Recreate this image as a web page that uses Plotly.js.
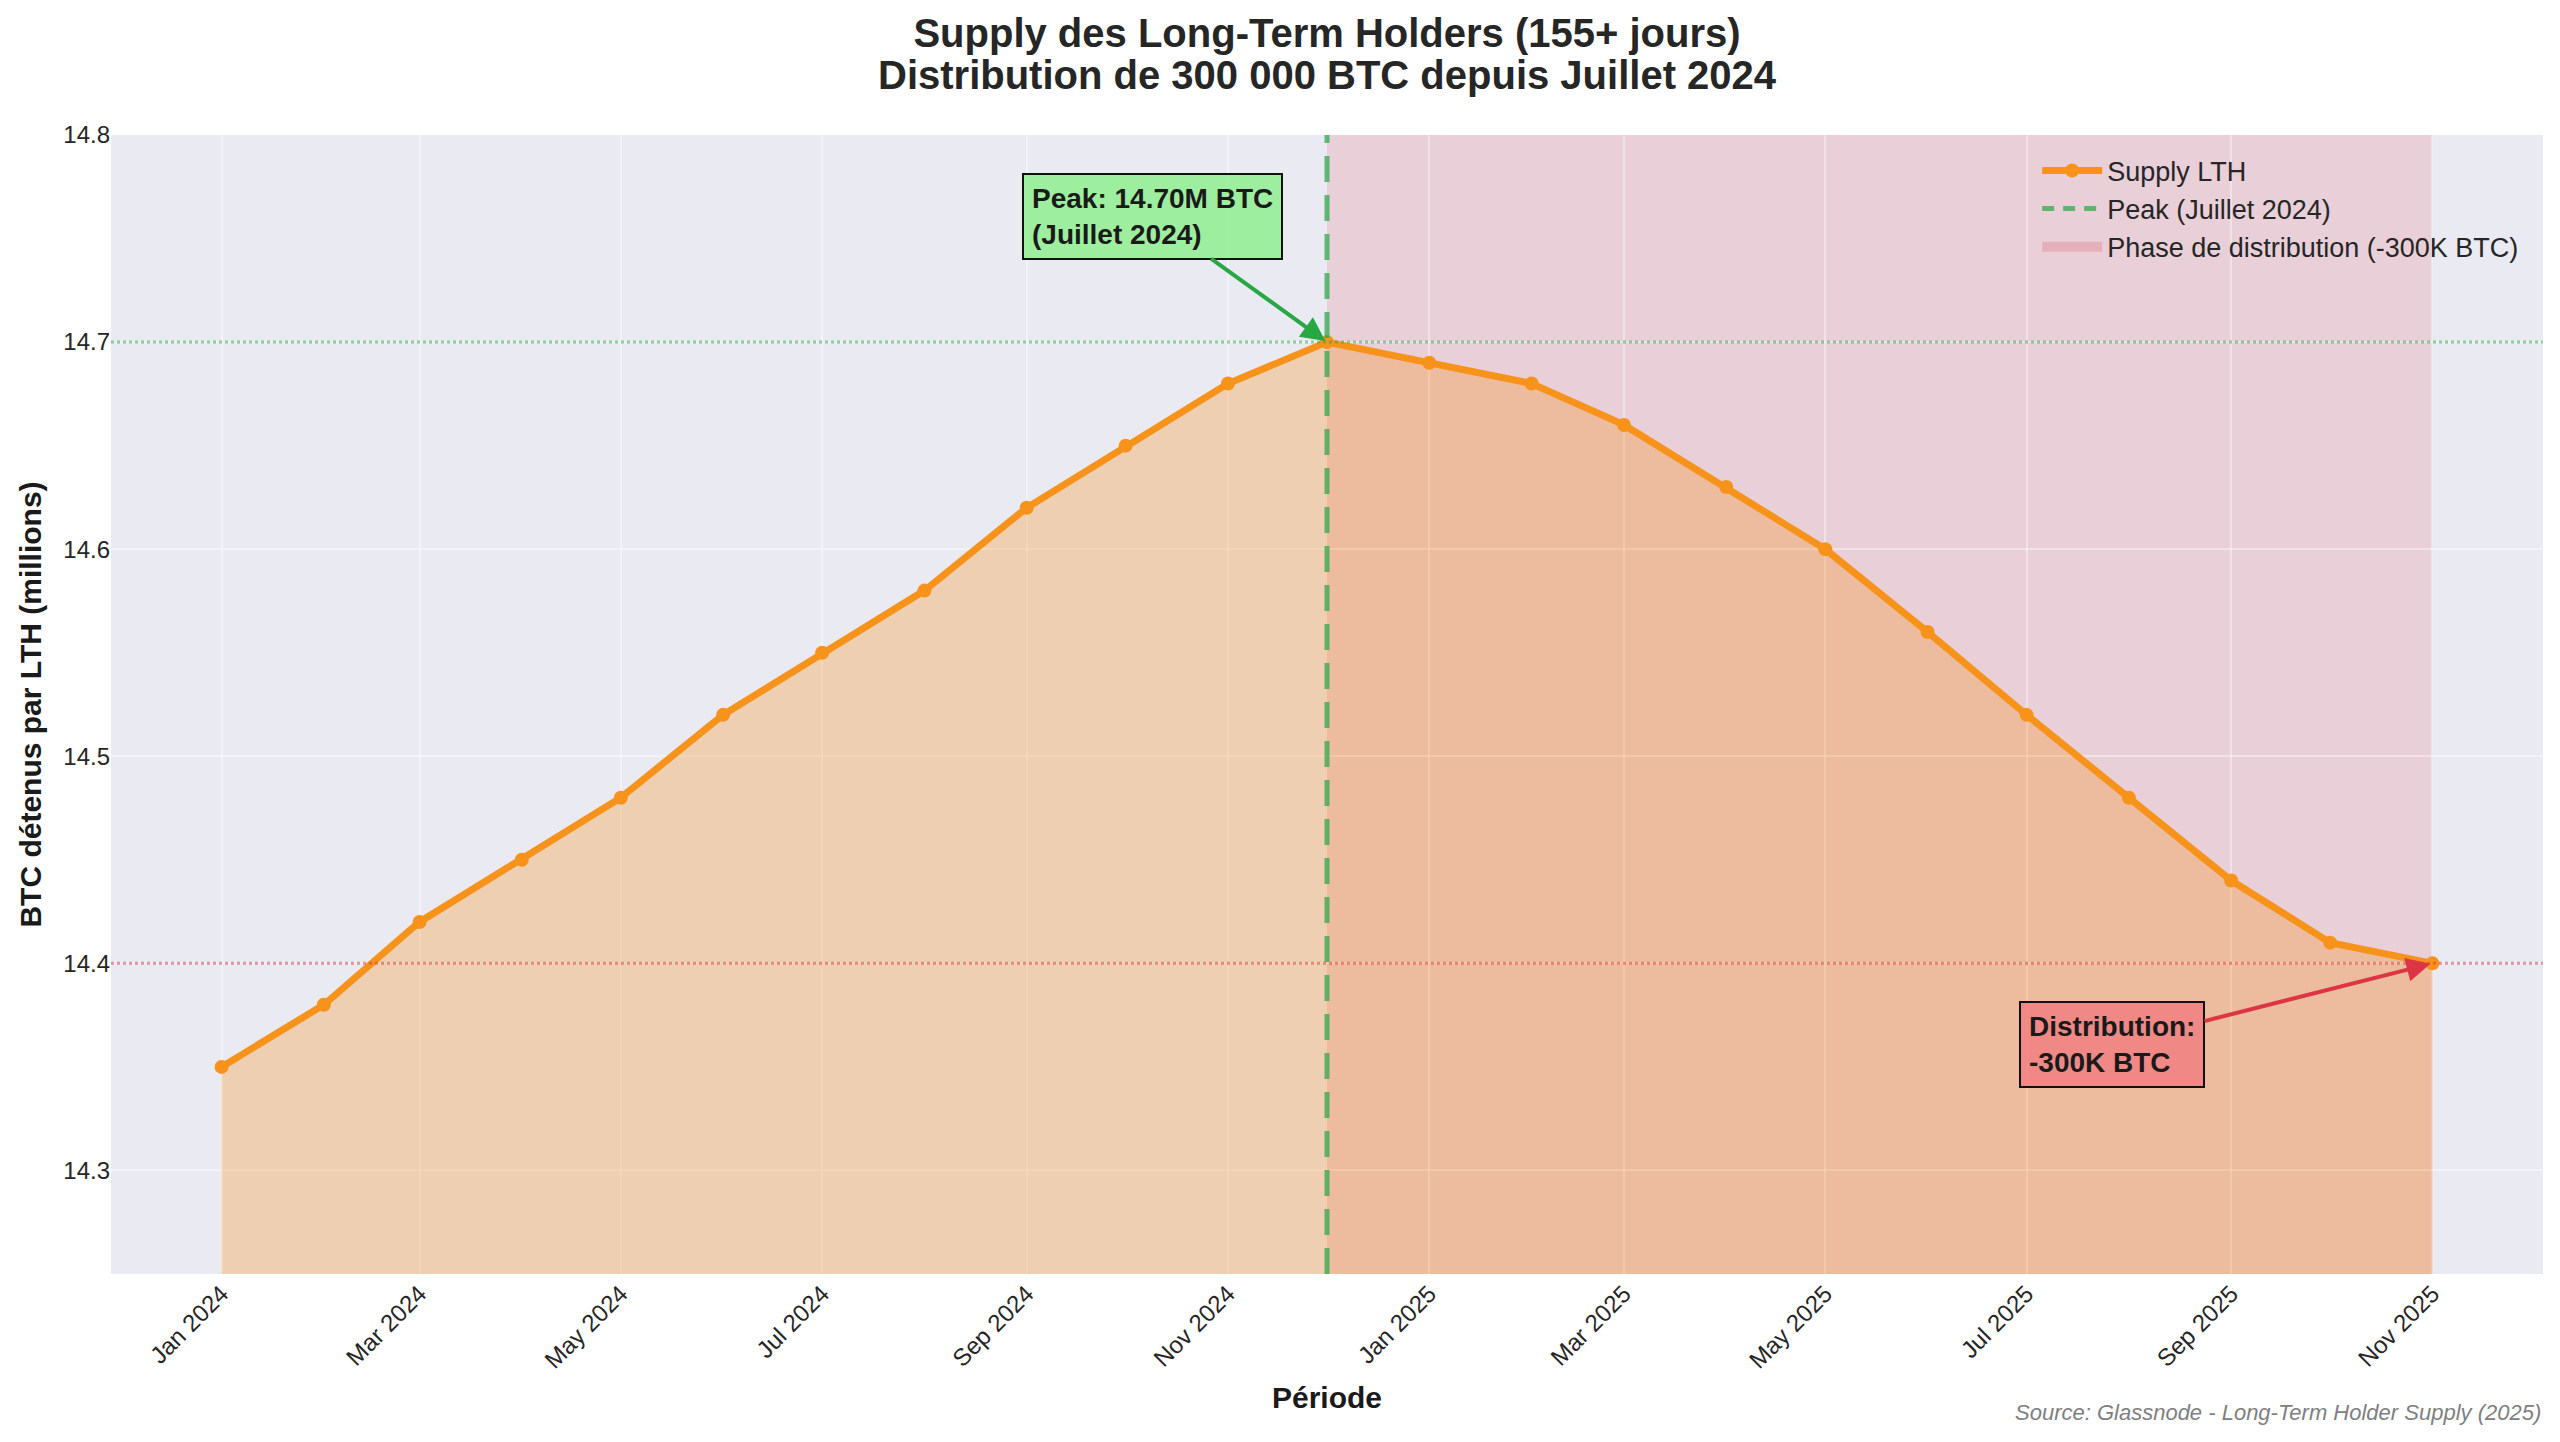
<!DOCTYPE html>
<html>
<head>
<meta charset="utf-8">
<script src="https://cdn.plot.ly/plotly-3.0.1.min.js"></script>
<style>
  html, body { margin: 0; padding: 0; background: #ffffff; }
  #chart { width: 2560px; height: 1442px; }
</style>
</head>
<body>
<div id="chart"></div>
<script>
// monthly LTH supply, millions of BTC
var months = [
  '2024-01-01', '2024-02-01', '2024-03-01', '2024-04-01', '2024-05-01', '2024-06-01',
  '2024-07-01', '2024-08-01', '2024-09-01', '2024-10-01', '2024-11-01', '2024-12-01',
  '2025-01-01', '2025-02-01', '2025-03-01', '2025-04-01', '2025-05-01', '2025-06-01',
  '2025-07-01', '2025-08-01', '2025-09-01', '2025-10-01', '2025-11-01'
];
var supplyLTH = [
  14.35, 14.38, 14.42, 14.45, 14.48, 14.52,
  14.55, 14.58, 14.62, 14.65, 14.68, 14.70,
  14.69, 14.68, 14.66, 14.63, 14.60, 14.56,
  14.52, 14.48, 14.44, 14.41, 14.40
];
var seriesName = 'Supply LTH';
var peakName = 'Peak (Juillet 2024)';
var phaseName = 'Phase de distribution (-300K BTC)';
var peakLabel = '(Juillet 2024)';
var distribLabel = ['Distribution:', '-300K BTC'];
var titleLines = [
  'Supply des Long-Term Holders (155+ jours)',
  'Distribution de 300 000 BTC depuis Juillet 2024'
];

var FONT = 'Liberation Sans, Arial, sans-serif';
var ORANGE = '#F7931A';
var GREEN = '#28a745';
var RED = '#dc3545';

// peak and end of series
var peakIdx = 0;
for (var i = 1; i < supplyLTH.length; i++) {
  if (supplyLTH[i] > supplyLTH[peakIdx]) peakIdx = i;
}
var lastIdx = supplyLTH.length - 1;
var peakDate = months[peakIdx];
var lastDate = months[lastIdx];

// matplotlib-like 5% margin on the date axis
var t0 = Date.parse(months[0]);
var t1 = Date.parse(lastDate);
var pad = 0.05 * (t1 - t0);
var xRange = [t0 - pad, t1 + pad];
var yRange = [14.25, 14.8];

var traces = [
  {   // area under the curve
    x: months, y: supplyLTH, type: 'scatter', mode: 'none',
    fill: 'tozeroy', fillcolor: 'rgba(247,147,26,0.3)',
    showlegend: false, hoverinfo: 'skip'
  },
  {
    x: months, y: supplyLTH, type: 'scatter', mode: 'lines+markers',
    name: seriesName,
    line: {color: ORANGE, width: 7},
    marker: {color: ORANGE, size: 14}
  },
  {   // legend entry only, the line itself is a shape
    x: [null], y: [null], type: 'scatter', mode: 'lines',
    name: peakName,
    line: {color: 'rgba(40,167,69,0.7)', width: 5, dash: '12px,9px'}
  },
  {   // legend entry only, the band is a shape
    x: [null], y: [null], type: 'scatter', mode: 'lines',
    name: phaseName,
    line: {color: 'rgba(220,53,69,0.2)', width: 20}
  }
];

var shapes = [
  {
    type: 'rect', layer: 'below', xref: 'x', yref: 'paper',
    x0: peakDate, x1: lastDate, y0: 0, y1: 1,
    fillcolor: 'rgba(220,53,69,0.15)', line: {width: 0}
  },
  {
    type: 'line', layer: 'above', xref: 'paper', yref: 'y',
    x0: 0, x1: 1, y0: supplyLTH[peakIdx], y1: supplyLTH[peakIdx],
    line: {color: 'rgba(40,167,69,0.5)', width: 3, dash: 'dot'}
  },
  {
    type: 'line', layer: 'above', xref: 'paper', yref: 'y',
    x0: 0, x1: 1, y0: supplyLTH[lastIdx], y1: supplyLTH[lastIdx],
    line: {color: 'rgba(220,53,69,0.5)', width: 3, dash: 'dot'}
  },
  {
    type: 'line', layer: 'above', xref: 'x', yref: 'paper',
    x0: peakDate, x1: peakDate, y0: 0, y1: 1,
    line: {color: 'rgba(40,167,69,0.72)', width: 5, dash: '26px,13px'}
  }
];

var annotations = [
  {
    x: peakDate, y: supplyLTH[peakIdx], xref: 'x', yref: 'y',
    text: 'Peak: ' + supplyLTH[peakIdx].toFixed(2) + 'M BTC<br>' + peakLabel,
    showarrow: true, ax: -175, ay: -126,
    arrowhead: 2, arrowsize: 1.2, arrowwidth: 4, arrowcolor: GREEN, standoff: 2,
    align: 'left', bgcolor: 'rgba(144,238,144,0.85)',
    bordercolor: '#111111', borderwidth: 2, borderpad: 8,
    font: {family: FONT, size: 28, weight: 'bold', color: '#1a1a1a'}
  },
  {
    x: lastDate, y: supplyLTH[lastIdx], xref: 'x', yref: 'y',
    text: distribLabel.join('<br>'),
    showarrow: true, ax: -320, ay: 81,
    arrowhead: 2, arrowsize: 1.2, arrowwidth: 4, arrowcolor: RED, standoff: 2,
    align: 'left', bgcolor: 'rgba(240,128,128,0.85)',
    bordercolor: '#111111', borderwidth: 2, borderpad: 8,
    font: {family: FONT, size: 28, weight: 'bold', color: '#1a1a1a'}
  },
  {   // second title line, tighter spacing than a <br> in the title
    xref: 'paper', yref: 'paper', x: 0.5, y: (1274 - 75) / 1139,
    xanchor: 'center', yanchor: 'middle', showarrow: false,
    text: titleLines[1],
    font: {family: FONT, size: 40, weight: 'bold', color: '#262626'}
  },
  {
    xref: 'paper', yref: 'paper', x: 1, y: -0.122,
    xanchor: 'right', yanchor: 'middle', showarrow: false,
    text: 'Source: Glassnode - Long-Term Holder Supply (2025)',
    font: {family: FONT, size: 22, style: 'italic', color: '#808080'}
  }
];

var layout = {
  width: 2560, height: 1442,
  margin: {l: 111, r: 17, t: 135, b: 168},
  paper_bgcolor: '#ffffff',
  plot_bgcolor: '#EAEAF2',
  font: {family: FONT, color: '#262626'},
  title: {
    text: titleLines[0],
    font: {family: FONT, size: 40, weight: 'bold', color: '#262626'},
    xref: 'paper', x: 0.5, xanchor: 'center',
    yref: 'container', y: 1 - 33 / 1442, yanchor: 'middle'
  },
  xaxis: {
    type: 'date', range: xRange,
    tick0: months[0], dtick: 'M2', tickformat: '%b %Y', tickangle: -45,
    tickfont: {size: 24, color: '#262626'},
    showgrid: true, gridcolor: 'rgba(255,255,255,0.4)', gridwidth: 2,
    zeroline: false, showline: false, ticks: '',
    title: {text: 'Période', font: {size: 30, weight: 'bold', color: '#1a1a1a'}, standoff: 14}
  },
  yaxis: {
    range: yRange, tick0: 14.3, dtick: 0.1, tickformat: '.1f',
    tickfont: {size: 24, color: '#262626'},
    showgrid: true, gridcolor: 'rgba(255,255,255,0.4)', gridwidth: 2,
    zeroline: false, showline: false, ticks: '',
    title: {text: 'BTC détenus par LTH (millions)', font: {size: 30, weight: 'bold', color: '#1a1a1a'}, standoff: 12}
  },
  legend: {
    x: 0.792, y: 0.99, xanchor: 'left', yanchor: 'top',
    bgcolor: 'rgba(0,0,0,0)', borderwidth: 0, itemwidth: 60,
    font: {family: FONT, size: 27, color: '#262626'}
  },
  shapes: shapes,
  annotations: annotations,
  hovermode: false
};

Plotly.newPlot('chart', traces, layout, {displayModeBar: false, staticPlot: true});
</script>
</body>
</html>
